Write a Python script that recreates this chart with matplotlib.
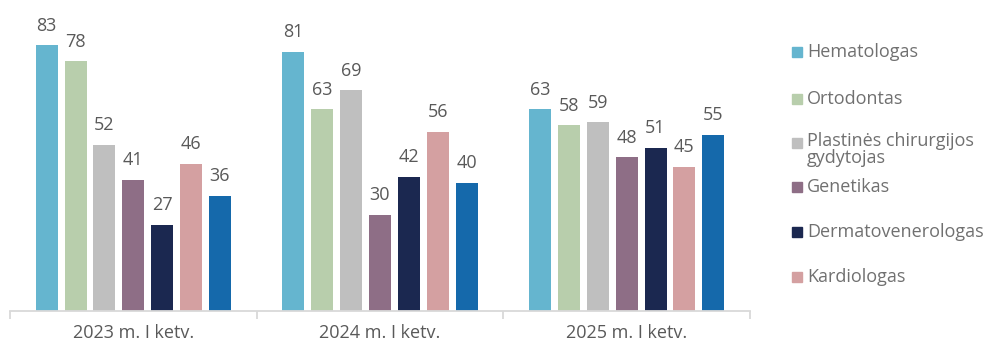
import numpy as np
import matplotlib.pyplot as plt
from matplotlib.patches import Rectangle

# data
periods = ["2023 m. I ketv.", "2024 m. I ketv.", "2025 m. I ketv."]
specialties = ["Hematologas", "Ortodontas", "Plastinės chirurgijos\ngydytojas",
               "Genetikas", "Dermatovenerologas", "Kardiologas", ""]
hematologas = [83, 81, 63]
ortodontas = [78, 63, 58]
plastines = [52, 69, 59]
genetikas = [41, 30, 48]
dermatovenerologas = [27, 42, 51]
kardiologas = [46, 56, 45]
kita = [36, 40, 55]

series = [hematologas, ortodontas, plastines, genetikas, dermatovenerologas, kardiologas, kita]
colors = ["#65B5CF", "#B8CEAC", "#BFBFBF", "#8E6E86", "#1B2850", "#D4A0A1", "#1569AB"]

plt.rcParams['font.family'] = ['Open Sans', 'DejaVu Sans']
txt = "#595959"

fig = plt.figure(figsize=(9.93, 3.44), dpi=100)
ax = fig.add_axes([10/993, 33/344, 740/993, 311/344])

x = np.arange(len(periods))
pitch = 0.117
width = 0.089
for i, (vals, c) in enumerate(zip(series, colors)):
    pos = x + (i - 3) * pitch
    bars = ax.bar(pos, vals, width, color=c)
    for p, v in zip(pos, vals):
        ax.text(p, v + 3.3, str(v), ha='center', va='bottom', fontsize=13, color=txt)

ax.set_xlim(-0.5, 2.5)
ax.set_ylim(0, 97.2)
ax.set_yticks([])
for s in ['top', 'right', 'left']:
    ax.spines[s].set_visible(False)
ax.spines['bottom'].set_color("#D9D9D9")
ax.spines['bottom'].set_linewidth(1.3)
ax.set_xticks(x)
ax.set_xticklabels(periods, fontsize=13, color=txt)
ax.tick_params(axis='x', which='major', length=0, pad=9)
ax.set_xticks([-0.5, 0.5, 1.5, 2.5], minor=True)
ax.tick_params(axis='x', which='minor', length=6, color="#D9D9D9", width=1.3)

# legend (only the first six entries are visible in the original)
leg_y = [52, 99, 143, 187, 232, 277]
for lab, c, yy in zip(specialties[:6], colors[:6], leg_y):
    fig.patches.append(Rectangle((792/993, 1 - (yy + 5)/344), 10/993, 10/344,
                                 transform=fig.transFigure, color=c))
    if '\n' in lab:
        fig.text(807/993, 1 - (yy - 11)/344, lab, fontsize=13, color="#707070",
                 va='top', ha='left', linespacing=0.95)
    else:
        fig.text(807/993, 1 - yy/344, lab, fontsize=13, color="#707070",
                 va='center', ha='left')

fig.savefig("out.png", dpi=100)
